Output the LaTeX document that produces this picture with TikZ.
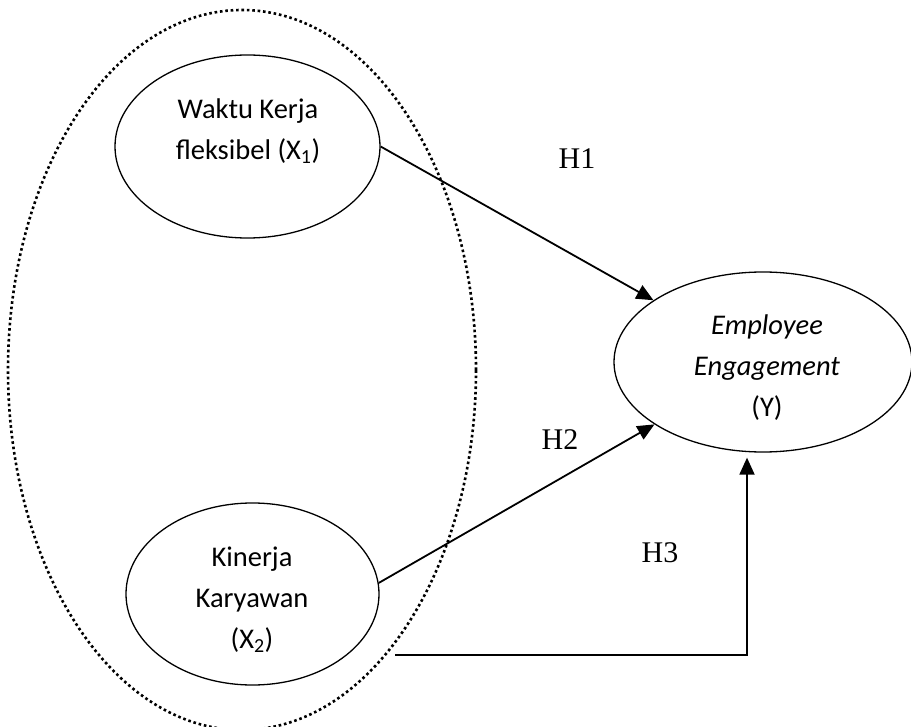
\documentclass[tikz,border=0pt]{standalone}
\usepackage{fontspec}
\setmainfont{Carlito}
\newfontfamily\tnr{Liberation Serif}
\usetikzlibrary{shapes.geometric,arrows.meta}
\tikzset{
  var/.style={draw, ellipse, line width=1.3pt, inner sep=0pt},
  grp/.style={draw, ellipse, line width=2.6pt, dash pattern=on 2.6pt off 2.8pt, inner sep=0pt},
  txt/.style={align=center, font=\fontsize{28.5}{41}\selectfont},
  hlab/.style={font=\tnr\fontsize{30}{36}\selectfont},
  conn/.style={line width=1.8pt, -{Triangle[length=17pt,width=15pt]}}
}
\begin{document}
\begin{tikzpicture}[x=1pt,y=-1pt]
\useasboundingbox (0,0) rectangle (911,727);
\node[grp, minimum width=468pt, minimum height=720pt] (outer) at (242,370) {};
\node[var, minimum width=265pt, minimum height=183pt] (x1) at (247.5,146.5) {};
\node[var, minimum width=253pt, minimum height=182pt] (x2) at (252.5,594) {};
\node[var, minimum width=298pt, minimum height=180pt] (y) at (763,362) {};
\node[txt] (x1t) at (248,131) {Waktu Kerja\\fleksibel (X\textsubscript{1})};
\node[txt] (x2t) at (252,600) {Kinerja\\Karyawan\\(X\textsubscript{2})};
\node[txt] (yt) at (767,368) {\textit{Employee}\\\textit{Engagement}\\(Y)};
\coordinate (h3s) at (395,655);
\draw[conn] (x1.east) -- (y);
\draw[conn] (x2.5) -- (y);
\draw[conn] (h3s) -| ([xshift=-16pt,yshift=-5pt]y.south);
\node[hlab] (h1) at (577,159) {H1};
\node[hlab] (h2) at (560,440) {H2};
\node[hlab] (h3) at (660,553) {H3};
\end{tikzpicture}
\end{document}
